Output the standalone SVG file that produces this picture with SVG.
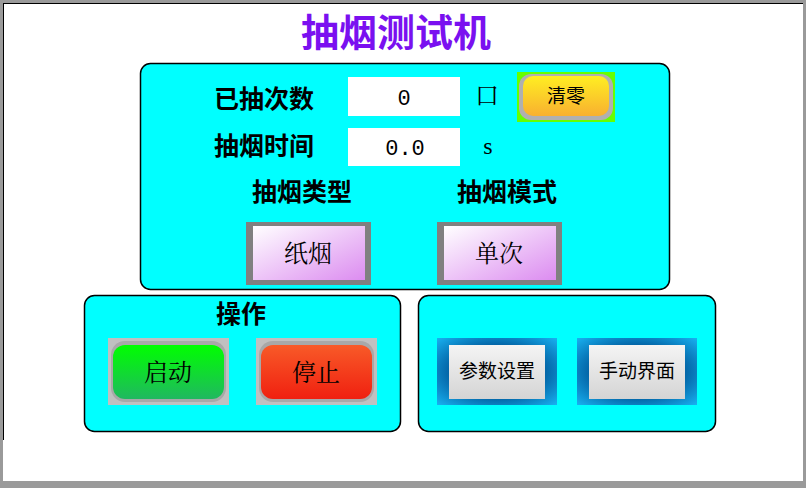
<svg xmlns="http://www.w3.org/2000/svg" width="806" height="488" viewBox="0 0 806 488">
<defs>
<style>
.panel{fill:#00ffff;stroke:#000;stroke-width:1.5}
.lbl{font-family:"Liberation Serif","Noto Sans CJK SC",serif;font-weight:bold;font-size:25px;fill:#000;text-anchor:middle}
.txt{font-family:"Liberation Serif","Noto Serif CJK SC","Noto Sans CJK SC",serif;font-size:24px;fill:#000;text-anchor:middle}
.num{font-family:"Liberation Mono",monospace;font-size:22px;fill:#000;text-anchor:middle}
.sm{font-family:"Liberation Serif","Noto Sans CJK SC",serif;font-size:19px;fill:#000;text-anchor:middle}
</style>
<linearGradient id="vio" x1="0" y1="0" x2="1" y2="1"><stop offset="0" stop-color="#ffffff"/><stop offset="1" stop-color="#dc8cf0"/></linearGradient>
<linearGradient id="yel" x1="0" y1="0" x2="0" y2="1"><stop offset="0" stop-color="#ffee22"/><stop offset="1" stop-color="#f8b030"/></linearGradient>
<linearGradient id="grn" x1="0" y1="0" x2="0" y2="1"><stop offset="0" stop-color="#00ff00"/><stop offset="1" stop-color="#20b860"/></linearGradient>
<linearGradient id="red" x1="0" y1="0" x2="0" y2="1"><stop offset="0" stop-color="#f85a28"/><stop offset="1" stop-color="#f02010"/></linearGradient>
<linearGradient id="gry" x1="0" y1="0" x2="0" y2="1"><stop offset="0" stop-color="#f4f4f4"/><stop offset="1" stop-color="#d4d4d4"/></linearGradient>
<radialGradient id="blu" cx="0.5" cy="0.5" r="0.7"><stop offset="0.5" stop-color="#005a9c"/><stop offset="1" stop-color="#18b0f0"/></radialGradient>
</defs>
<rect x="0" y="0" width="806" height="488" fill="#9a9a9a"/>
<rect x="3" y="3" width="800" height="478" fill="#fff"/>
<line x1="3.5" y1="3" x2="3.5" y2="440" stroke="#000" stroke-width="1"/>
<line x1="3" y1="3.5" x2="803" y2="3.5" stroke="#000" stroke-width="1"/>
<text x="396" y="46" font-family="Liberation Sans,'Noto Sans CJK SC',sans-serif" font-size="38" font-weight="bold" fill="#7a10f0" text-anchor="middle">抽烟测试机</text>

<g id="panel-top">
<rect class="panel" x="140.5" y="63.5" width="529" height="226" rx="10"/>
<text class="lbl" x="264" y="108">已抽次数</text>
<text class="lbl" x="264" y="155">抽烟时间</text>
<rect x="348" y="77" width="112" height="39" fill="#fff"/>
<rect x="348" y="128" width="112" height="38" fill="#fff"/>
<text class="num" x="404" y="105">0</text>
<text class="num" x="405" y="155">0.0</text>
<text class="txt" x="487" y="104">口</text>
<text class="txt" x="488" y="154">s</text>
<text class="lbl" x="302" y="201">抽烟类型</text>
<text class="lbl" x="507" y="201">抽烟模式</text>
</g>
<g id="btn-clear">
<rect x="517" y="72" width="98" height="50" fill="#66ff00"/>
<rect x="519" y="74" width="94" height="46" rx="12" fill="#b0b0b0"/>
<rect x="523" y="76" width="86" height="40" rx="10" fill="url(#yel)"/>
<text class="sm" x="566" y="103">清零</text>
</g>
<g id="btn-type">
<rect x="246" y="222" width="125" height="63" fill="#808080"/>
<rect x="253" y="226" width="112" height="54" fill="url(#vio)"/>
<text class="txt" x="308" y="262">纸烟</text>
</g>
<g id="btn-mode">
<rect x="437" y="222" width="125" height="63" fill="#808080"/>
<rect x="444" y="226" width="112" height="54" fill="url(#vio)"/>
<text class="txt" x="499" y="262">单次</text>
</g>

<g id="panel-op">
<rect class="panel" x="84.5" y="295.5" width="316" height="136" rx="10"/>
<text class="lbl" x="241" y="323">操作</text>
</g>
<g id="btn-start">
<rect x="108" y="338" width="121" height="67" fill="#c0c0c0"/>
<rect x="111" y="341" width="115" height="61" rx="14" fill="#a8a8a8"/>
<rect x="113" y="345" width="111" height="54" rx="12" fill="url(#grn)"/>
<text class="txt" x="168" y="381" font-size="26">启动</text>
</g>
<g id="btn-stop">
<rect x="256" y="338" width="121" height="67" fill="#c0c0c0"/>
<rect x="259" y="341" width="115" height="61" rx="14" fill="#a8a8a8"/>
<rect x="261" y="345" width="111" height="54" rx="12" fill="url(#red)"/>
<text class="txt" x="316" y="381" font-size="26">停止</text>
</g>

<g id="panel-nav">
<rect class="panel" x="418.5" y="295.5" width="297" height="136" rx="10"/>
</g>
<g id="btn-param">
<rect x="437" y="338" width="120" height="67" fill="url(#blu)"/>
<rect x="449" y="345" width="96" height="54" fill="url(#gry)"/>
<text class="sm" x="497" y="378">参数设置</text>
</g>
<g id="btn-manual">
<rect x="577" y="338" width="120" height="67" fill="url(#blu)"/>
<rect x="589" y="345" width="96" height="54" fill="url(#gry)"/>
<text class="sm" x="637" y="378">手动界面</text>
</g>
<g id="connectors"/>
</svg>
